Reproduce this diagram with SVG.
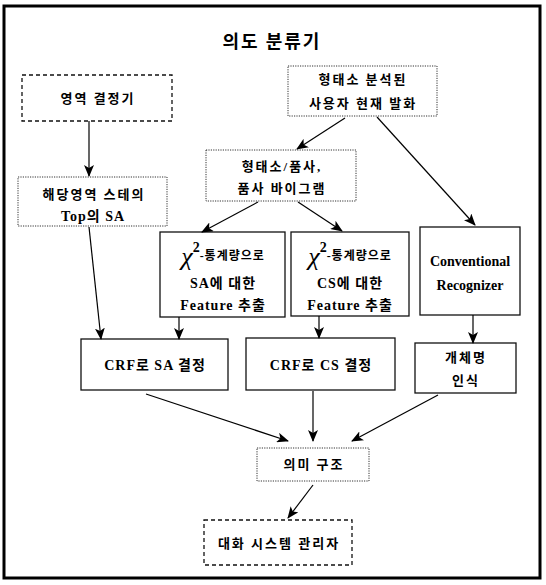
<svg xmlns="http://www.w3.org/2000/svg" width="546" height="585" viewBox="0 0 546 585">
  <defs>
    <marker id="arrow" viewBox="0 0 12 10" markerWidth="12" markerHeight="10" refX="11" refY="5" orient="auto" markerUnits="userSpaceOnUse">
      <path d="M0,0 L12,5 L0,10 L3,5 z" fill="#000"/>
    </marker>
    <style>
      .frame { fill: #fff; stroke: #000; stroke-width: 3; }
      .solid { fill: #fff; stroke: #111; stroke-width: 1.3; }
      .dashed { fill: #fff; stroke: #111; stroke-width: 1.3; stroke-dasharray: 4 3; }
      .dotted { fill: #fff; stroke: #333; stroke-width: 1; stroke-dasharray: 1.2 1.2; }
      .lbl { font-family: "Liberation Serif", "Noto Sans CJK KR", serif; font-weight: bold; font-size: 14px; letter-spacing: 1px; fill: #000; text-anchor: middle; dominant-baseline: central; }
      .ko { font-size: 13px; letter-spacing: 2px; }
      .title { font-family: "Noto Sans CJK KR", sans-serif; font-weight: bold; font-size: 18px; letter-spacing: 2px; fill: #000; text-anchor: middle; dominant-baseline: central; }
      .chi { font-family: "Liberation Serif", serif; font-style: italic; font-size: 26px; font-weight: normal; letter-spacing: 0; }
      .sup { font-family: "Liberation Serif", serif; font-size: 14px; letter-spacing: 0; }
      .small { font-size: 12px; letter-spacing: 1px; }
      .conn line { stroke: #000; stroke-width: 1.2; fill: none; marker-end: url(#arrow); }
    </style>
  </defs>

  <rect class="frame" x="4" y="6" width="536" height="572"/>
  <text class="title" x="272" y="40">의도 분류기</text>

  <g id="domain-decider">
    <rect class="dashed" x="22" y="75" width="150" height="46"/>
    <text class="lbl ko" x="98" y="98">영역 결정기</text>
  </g>

  <g id="user-utterance">
    <rect class="dotted" x="288" y="66" width="149" height="50"/>
    <text class="lbl ko" x="363" y="79">형태소 분석된</text>
    <text class="lbl ko" x="363" y="103">사용자 현재 발화</text>
  </g>

  <g id="pos-bigram">
    <rect class="dotted" x="206" y="150" width="150" height="51"/>
    <text class="lbl ko" x="282" y="166">형태소/품사,</text>
    <text class="lbl ko" x="282" y="188">품사 바이그램</text>
  </g>

  <g id="top-sa">
    <rect class="dotted" x="18" y="177" width="149" height="49"/>
    <text class="lbl ko" x="94" y="194">해당영역 스테의</text>
    <text class="lbl" x="93" y="216">Top의 SA</text>
  </g>

  <g id="sa-features">
    <rect class="solid" x="160" y="232" width="125" height="85"/>
    <text class="lbl" x="223" y="256"><tspan class="chi">χ</tspan><tspan class="sup" dy="-9">2</tspan><tspan class="small" dy="9">-통계량으로</tspan></text>
    <text class="lbl" x="223" y="283">SA에 대한</text>
    <text class="lbl" x="223" y="305">Feature 추출</text>
  </g>

  <g id="cs-features">
    <rect class="solid" x="291" y="232" width="118" height="84"/>
    <text class="lbl" x="350" y="256"><tspan class="chi">χ</tspan><tspan class="sup" dy="-9">2</tspan><tspan class="small" dy="9">-통계량으로</tspan></text>
    <text class="lbl" x="350" y="283">CS에 대한</text>
    <text class="lbl" x="350" y="305">Feature 추출</text>
  </g>

  <g id="conventional-recognizer">
    <rect class="solid" x="420" y="227" width="100" height="88"/>
    <text class="lbl" x="470" y="261" style="letter-spacing:0">Conventional</text>
    <text class="lbl" x="470" y="285" style="letter-spacing:0">Recognizer</text>
  </g>

  <g id="crf-sa">
    <rect class="solid" x="81" y="339" width="147" height="51"/>
    <text class="lbl" x="155" y="365">CRF로 SA 결정</text>
  </g>

  <g id="crf-cs">
    <rect class="solid" x="246" y="338" width="149" height="52"/>
    <text class="lbl" x="321" y="365">CRF로 CS 결정</text>
  </g>

  <g id="named-entity">
    <rect class="solid" x="415" y="343" width="101" height="50"/>
    <text class="lbl ko" x="466" y="357">개체명</text>
    <text class="lbl ko" x="466" y="380">인식</text>
  </g>

  <g id="semantic-structure">
    <rect class="dotted" x="257" y="448" width="112" height="33"/>
    <text class="lbl ko" x="314" y="464">의미 구조</text>
  </g>

  <g id="dialog-manager">
    <rect class="dashed" x="204" y="520" width="148" height="45"/>
    <text class="lbl ko" x="279" y="543">대화 시스템 관리자</text>
  </g>

  <g id="connectors" class="conn">
    <line x1="89" y1="121" x2="89" y2="176"/>
    <line x1="345" y1="118" x2="297" y2="149"/>
    <line x1="377" y1="117" x2="475" y2="225"/>
    <line x1="258" y1="202" x2="202" y2="232"/>
    <line x1="298" y1="202" x2="342" y2="231"/>
    <line x1="89" y1="227" x2="101" y2="339"/>
    <line x1="179" y1="317" x2="179" y2="339"/>
    <line x1="319" y1="316" x2="319" y2="338"/>
    <line x1="473" y1="315" x2="473" y2="343"/>
    <line x1="146" y1="394" x2="288" y2="441"/>
    <line x1="313" y1="391" x2="313" y2="441"/>
    <line x1="438" y1="395" x2="352" y2="441"/>
    <line x1="313" y1="485" x2="288" y2="518"/>
  </g>
</svg>
